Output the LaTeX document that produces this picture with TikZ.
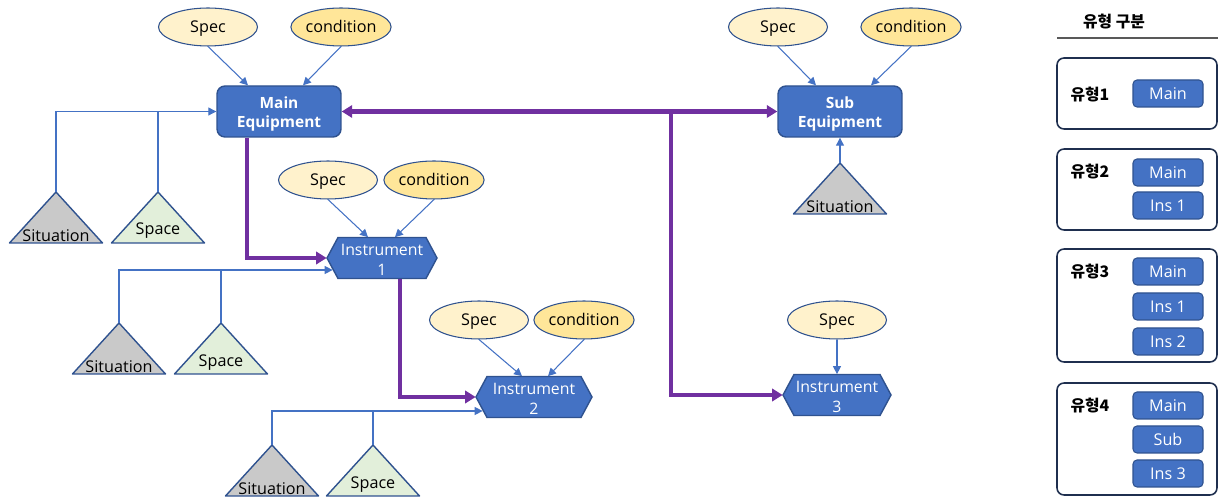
\documentclass[tikz,border=0pt]{standalone}
\usepackage{fontspec}
\setmainfont{Open Sans}
\newfontfamily\kr{Noto Sans CJK KR}
\usetikzlibrary{arrows.meta,calc,shapes.geometric}
\definecolor{boxblue}{HTML}{4472C4}
\definecolor{boxedge}{HTML}{2F528F}
\definecolor{purp}{HTML}{7030A0}
\definecolor{specfill}{HTML}{FFF2CC}
\definecolor{condfill}{HTML}{FFE699}
\definecolor{sitfill}{HTML}{C9C9C9}
\definecolor{spacefill}{HTML}{E2EFDA}
\definecolor{navy}{HTML}{1F2F4F}
\tikzset{
  txt/.style={font=\fontsize{9.2}{10.5}\selectfont},
  equip/.style={rectangle, rounded corners=0.16cm, fill=boxblue, draw=boxedge, line width=0.8pt,
    text=white, font=\bfseries\fontsize{8.8}{10.8}\selectfont, align=center,
    minimum width=2.48cm, minimum height=1.02cm, inner sep=0pt, text height=20.6pt, text depth=2.1pt},
  ell/.style={ellipse, draw=boxedge, line width=0.6pt, minimum width=1.98cm, minimum height=0.76cm,
    inner sep=0pt, txt, text height=6.6pt, text depth=0pt},
  specell/.style={ell, fill=specfill},
  condell/.style={ell, fill=condfill},
  hexfill/.style={fill=boxblue, draw=boxedge, line width=0.8pt},
  hexin/.style={rectangle, inner sep=0pt, minimum height=0.82cm, text=white, align=center,
    font=\fontsize{9}{11.6}\selectfont, text height=20.4pt, text depth=0pt},
  tri/.style={draw=boxedge, line width=0.8pt, line join=round},
  trilab/.style={txt, inner sep=0pt},
  thinarr/.style={draw=boxblue, line width=0.6pt, -{Triangle[length=4.5pt,width=4.5pt]}},
  thinline/.style={draw=boxblue, line width=0.6pt},
  thickarr/.style={draw=purp, line width=2.3pt, -{Triangle[length=6pt,width=7pt]}},
  legbox/.style={rectangle, draw=navy, line width=0.9pt, rounded corners=0.14cm, minimum width=3.2cm},
  btn/.style={rectangle, rounded corners=0.08cm, fill=boxblue, draw=boxedge, line width=0.6pt,
    text=white, minimum width=1.4cm, minimum height=0.54cm, inner sep=0pt, font=\fontsize{9.2}{10}\selectfont},
  leglab/.style={font=\kr\bfseries\fontsize{9}{10}\selectfont, inner sep=0pt}
}
\newcommand{\trinode}[6]{%
  \coordinate (#1) at (#2,#3);
  \filldraw[tri,fill=#4] (#1) -- ++(-46.5,51) -- ++(93,0) -- cycle;
  \node[trilab] (#1t) at ($(#1)+(0,#5)$) {#6};
}
\newcommand{\hexnode}[5]{%
  \filldraw[hexfill] ($(#2,#3)+(-#4,0)$) -- ++(11,-20.5) -- ++({2*#4-22},0) -- ++(11,20.5)
     -- ++(-11,20.5) -- ++({-(2*#4-22)},0) -- cycle;
  \node[hexin, minimum width={2*#4*0.02cm}] (#1) at (#2,#3) {#5};
}
\begin{document}
\begin{tikzpicture}[x=0.02cm,y=-0.02cm]
\useasboundingbox (0,0) rectangle (1218,499);

% ---------- Main equipment ----------
\node[equip] (main) at (279,111.5) {Main\\Equipment};
\node[specell] (specM) at (208,27) {Spec};
\node[condell] (condM) at (341,27) {condition};
\draw[thinarr] (specM.south) -- ($(main.north)+(-31,0)$);
\draw[thinarr] (condM.south) -- ($(main.north)+(24,0)$);
\trinode{sA}{56}{192}{sitfill}{44}{Situation}
\trinode{pA}{158}{192}{spacefill}{39}{Space}
\draw[thinarr] (sA) |- (main.west);
\draw[thinline] (pA) -- (pA |- main.west);

% ---------- Sub equipment ----------
\node[equip] (sub) at (840,111.5) {Sub\\Equipment};
\node[specell] (specS) at (778,27) {Spec};
\node[condell] (condS) at (911,27) {condition};
\draw[thinarr] (specS.south) -- ($(sub.north)+(-24,0)$);
\draw[thinarr] (condS.south) -- ($(sub.north)+(31,0)$);
\trinode{sD}{840}{163}{sitfill}{44}{Situation}
\draw[thinarr] (sD) -- (sub.south);

% ---------- Instrument 1 ----------
\hexnode{i1}{382}{258}{55}{Instrument\\1}
\node[specell] (spec1) at (328,180) {Spec};
\node[condell] (cond1) at (434,180) {condition};
\draw[thinarr] (spec1.south) -- ($(i1.north)+(-14,0)$);
\draw[thinarr] (cond1.south) -- ($(i1.north)+(13,0)$);
\trinode{sB}{119}{323}{sitfill}{44}{Situation}
\trinode{pB}{221}{323}{spacefill}{40}{Space}
\coordinate (i1in) at ($(i1.west)+(6,12)$);
\draw[thinarr] (sB) |- (i1in);
\draw[thinline] (pB) -- (pB |- i1in);

% ---------- Instrument 2 ----------
\hexnode{i2}{534}{397}{58}{Instrument\\2}
\node[specell] (spec2) at (479,320) {Spec};
\node[condell] (cond2) at (584,320) {condition};
\draw[thinarr] (spec2.south) -- ($(i2.north)+(-12,0)$);
\draw[thinarr] (cond2.south) -- ($(i2.north)+(14,0)$);
\trinode{sC}{272}{445}{sitfill}{44}{Situation}
\trinode{pC}{373}{445}{spacefill}{40}{Space}
\coordinate (i2in) at ($(i2.west)+(7,14)$);
\draw[thinarr] (sC) |- (i2in);
\draw[thinline] (pC) -- (pC |- i2in);

% ---------- Instrument 3 ----------
\hexnode{i3}{837}{395}{54}{Instrument\\3}
\node[specell] (spec3) at (837,320) {Spec};
\draw[thinarr] (spec3.south) -- (i3.north);

% ---------- Purple links ----------
\draw[thickarr] ($(main.south)+(-32,0)$) |- (i1.west);
\draw[thickarr] ($(i1.south)+(18,0)$) |- (i2.west);
\draw[thickarr, {Triangle[length=6pt,width=7pt]}-{Triangle[length=6pt,width=7pt]}] (main.east) -- (sub.west);
\coordinate (jn) at (671,111.5);
\draw[thickarr] (jn) |- (i3.west);

% ---------- Legend ----------
\node[leglab] (hdr) at (1114,22) {유형 구분};
\coordinate (hl1) at (1057,38);
\coordinate (hl2) at (1218,38);
\draw[draw=black!65, line width=0.9pt] (hl1) -- (hl2);

\node[legbox, minimum height=1.42cm] (lb1) at (1137,93.5) {};
\node[leglab] (lt1) at (1090,95) {유형1};
\node[btn] (b11) at (1168,93.5) {Main};

\node[legbox, minimum height=1.62cm] (lb2) at (1137,189.5) {};
\node[leglab] (lt2) at (1090,172) {유형2};
\node[btn] (b21) at (1168,172.5) {Main};
\node[btn] (b22) at (1168,205.5) {Ins 1};

\node[legbox, minimum height=2.26cm] (lb3) at (1137,305.5) {};
\node[leglab] (lt3) at (1090,272) {유형3};
\node[btn] (b31) at (1168,271.5) {Main};
\node[btn] (b32) at (1168,306.5) {Ins 1};
\node[btn] (b33) at (1168,341.5) {Ins 2};

\node[legbox, minimum height=2.24cm] (lb4) at (1137,439) {};
\node[leglab] (lt4) at (1090,406) {유형4};
\node[btn] (b41) at (1168,405.5) {Main};
\node[btn] (b42) at (1168,439.5) {Sub};
\node[btn] (b43) at (1168,473.5) {Ins 3};
\end{tikzpicture}
\end{document}
